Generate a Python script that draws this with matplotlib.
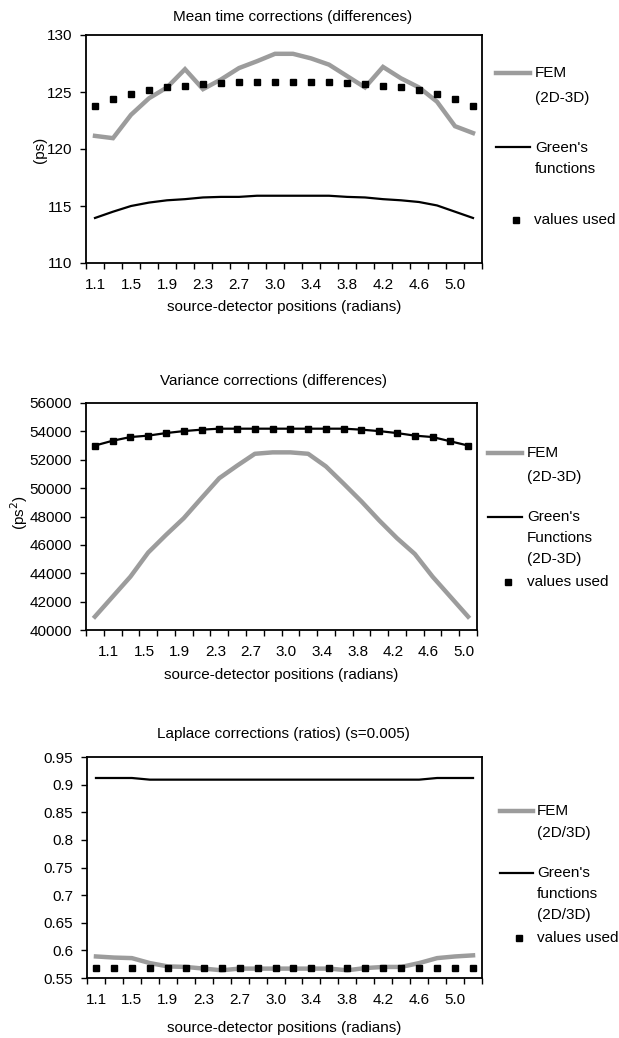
import matplotlib
matplotlib.use("Agg")
import matplotlib.pyplot as plt
from matplotlib.lines import Line2D

plt.rcParams['font.family'] = ['Liberation Sans', 'DejaVu Sans']
plt.rcParams['font.size'] = 11

# ---------------- data ----------------
mean_positions = ["1.1", "1.3", "1.5", "1.7", "1.9", "2.1", "2.3", "2.5", "2.7", "2.9", "3.0",
                  "3.2", "3.4", "3.6", "3.8", "4.0", "4.2", "4.4", "4.6", "4.8", "5.0", "5.2"]
mean_fem = [121.15, 120.95, 123.0, 124.45, 125.4, 127.0, 125.25, 126.1, 127.1, 127.7, 128.35,
            128.35, 127.95, 127.4, 126.4, 125.4, 127.2, 126.2, 125.4, 124.15, 122.0, 121.4]
mean_green = [113.95, 114.5, 115.0, 115.3, 115.5, 115.6, 115.75, 115.8, 115.8, 115.9, 115.9,
              115.9, 115.9, 115.9, 115.8, 115.75, 115.6, 115.5, 115.35, 115.05, 114.5, 113.95]
mean_used = [123.8, 124.4, 124.8, 125.2, 125.4, 125.55, 125.7, 125.8, 125.9, 125.9, 125.9,
             125.9, 125.9, 125.9, 125.8, 125.7, 125.55, 125.4, 125.2, 124.8, 124.4, 123.8]

var_positions = ["0.9", "1.1", "1.3", "1.5", "1.7", "1.9", "2.1", "2.3", "2.5", "2.7", "2.9",
                 "3.0", "3.2", "3.4", "3.6", "3.8", "4.0", "4.2", "4.4", "4.6", "4.8", "5.0"]
var_fem = [40940, 42350, 43760, 45460, 46700, 47880, 49300, 50700, 51580, 52420, 52520,
           52520, 52420, 51530, 50310, 49060, 47720, 46470, 45360, 43760, 42350, 40940]
var_green = [53000, 53340, 53600, 53700, 53880, 54020, 54120, 54190, 54190, 54190, 54190,
             54190, 54190, 54190, 54190, 54120, 54020, 53880, 53700, 53600, 53300, 53000]
var_used = list(var_green)

lap_positions = list(mean_positions)
lap_fem = [0.589, 0.587, 0.586, 0.577, 0.571, 0.570, 0.567, 0.564, 0.567, 0.567, 0.567,
           0.567, 0.567, 0.567, 0.564, 0.568, 0.570, 0.570, 0.577, 0.586, 0.589, 0.591]
lap_green = [0.912, 0.912, 0.912, 0.909, 0.909, 0.909, 0.909, 0.909, 0.909, 0.909, 0.909,
             0.909, 0.909, 0.909, 0.909, 0.909, 0.909, 0.909, 0.909, 0.912, 0.912, 0.912]
lap_used = [0.569] * 22

# ---------------- figure ----------------
W, H = 619, 1038
fig = plt.figure(figsize=(W / 100, H / 100), dpi=100)


def fx(x):
    return x / W


def fy(y):
    return 1 - y / H


def make_ax(left, right, top, bottom):
    return fig.add_axes([fx(left), fy(bottom), (right - left) / W, (bottom - top) / H])


GRAY = "#9c9c9c"
FS = 11


def style(ax, cats, label_parity, label_offset, ylim, yticks, yfmt):
    n = len(cats)
    ax.set_xlim(-0.5, n - 0.5)
    ax.set_ylim(*ylim)
    ax.set_yticks(yticks)
    ax.set_yticklabels([yfmt(v) for v in yticks])
    # boundary tick marks
    ax.set_xticks([i - 0.5 for i in range(n + 1)])
    ax.set_xticklabels([])
    ax.tick_params(axis='x', which='major', direction='out', length=4, width=1, color='black')
    # labels via minor ticks
    idx = [i for i in range(n) if i % 2 == label_parity]
    ax.set_xticks([i + label_offset for i in idx], minor=True)
    ax.set_xticklabels([cats[i] for i in idx], minor=True)
    ax.tick_params(axis='x', which='minor', length=0, pad=11, labelsize=FS)
    ax.tick_params(axis='y', direction='out', length=4, width=1, pad=6, labelsize=FS)
    for s in ax.spines.values():
        s.set_color('black')
        s.set_linewidth(1.3)


def legend_line(x0, x1, y, **kw):
    fig.add_artist(Line2D([fx(x0), fx(x1)], [fy(y), fy(y)], transform=fig.transFigure, **kw))


def legend_marker(x, y):
    fig.add_artist(Line2D([fx(x)], [fy(y)], transform=fig.transFigure, marker='s',
                          markersize=4.5, color='black', linestyle='none'))


def legend_text(x, y, s):
    fig.text(fx(x), fy(y), s, ha='left', va='center', fontsize=FS)


# ---- chart 1 ----
ax1 = make_ax(86, 482, 35, 263)
x1 = list(range(len(mean_positions)))
ax1.plot(x1, mean_fem, color=GRAY, lw=3.2, solid_joinstyle='miter')
ax1.plot(x1, mean_green, color='black', lw=1.6)
ax1.plot(x1, mean_used, 's', color='black', markersize=4.5)
style(ax1, mean_positions, 0, 0.0, (110, 130), [110, 115, 120, 125, 130], lambda v: f"{v:g}")
fig.text(fx(293), fy(17), "Mean time corrections (differences)", ha='center', va='center', fontsize=FS)
fig.text(fx(284), fy(307), "source-detector positions (radians)", ha='center', va='center', fontsize=FS)
fig.text(fx(40), fy(150), "(ps)", ha='center', va='center', rotation=90, fontsize=FS)
legend_line(496, 530, 73, color=GRAY, lw=3.2)
legend_text(535, 73, "FEM")
legend_text(535, 98, "(2D-3D)")
legend_line(496, 530, 147, color='black', lw=1.6)
legend_text(535, 148, "Green's")
legend_text(535, 169, "functions")
legend_marker(516, 220)
legend_text(534, 220, "values used")

# ---- chart 2 ----
ax2 = make_ax(86, 477, 403, 630)
x2 = list(range(len(var_positions)))
ax2.plot(x2, var_fem, color=GRAY, lw=3.2)
ax2.plot(x2, var_green, color='black', lw=1.6)
ax2.plot(x2, var_used, 's', color='black', markersize=4.5)
style(ax2, var_positions, 1, -0.22, (40000, 56000), list(range(40000, 56001, 2000)), lambda v: f"{v:d}")
fig.text(fx(273), fy(381), "Variance corrections (differences)", ha='center', va='center', fontsize=FS)
fig.text(fx(281), fy(675), "source-detector positions (radians)", ha='center', va='center', fontsize=FS)
fig.text(fx(19), fy(513), "(ps$^{2}$)", ha='center', va='center', rotation=90, fontsize=FS)
legend_line(488, 522, 453, color=GRAY, lw=3.2)
legend_text(527, 453, "FEM")
legend_text(527, 477, "(2D-3D)")
legend_line(488, 522, 517, color='black', lw=1.6)
legend_text(527, 517, "Green's")
legend_text(527, 538, "Functions")
legend_text(527, 559, "(2D-3D)")
legend_marker(508, 582)
legend_text(527, 582, "values used")

# ---- chart 3 ----
ax3 = make_ax(87, 482, 757, 978)
x3 = list(range(len(lap_positions)))
ax3.plot(x3, lap_fem, color=GRAY, lw=3.2)
ax3.plot(x3, lap_green, color='black', lw=1.6)
ax3.plot(x3, lap_used, 's', color='black', markersize=4.5)
lap_ticks = [0.55, 0.6, 0.65, 0.7, 0.75, 0.8, 0.85, 0.9, 0.95]
style(ax3, lap_positions, 0, 0.0, (0.55, 0.95), lap_ticks, lambda v: f"{v:g}")
fig.text(fx(283), fy(734), "Laplace corrections (ratios) (s=0.005)", ha='center', va='center', fontsize=FS)
fig.text(fx(284), fy(1028), "source-detector positions (radians)", ha='center', va='center', fontsize=FS)
legend_line(500, 533, 811, color=GRAY, lw=3.2)
legend_text(537, 811, "FEM")
legend_text(537, 833, "(2D/3D)")
legend_line(500, 533, 873, color='black', lw=1.6)
legend_text(537, 873, "Green's")
legend_text(537, 894, "functions")
legend_text(537, 915, "(2D/3D)")
legend_marker(519, 938)
legend_text(537, 938, "values used")

fig.savefig("out.png", dpi=100)
